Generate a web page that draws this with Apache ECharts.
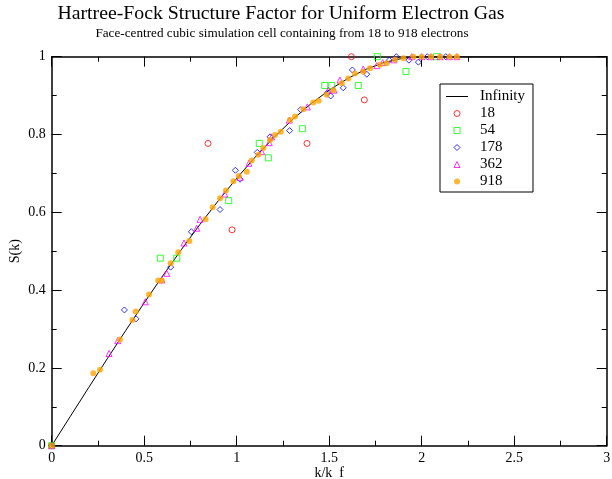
<!DOCTYPE html>
<html>
<head>
<meta charset="utf-8">
<script src="https://cdn.jsdelivr.net/npm/echarts/dist/echarts.min.js"></script>
<style>
  html, body { margin: 0; padding: 0; background: #fff; }
  #chart { width: 612px; height: 479px; }
</style>
</head>
<body>
<div id="chart"></div>
<script>
// Hartree-Fock S(k) for the infinite system
const kInf = [0, 0.1, 0.2, 0.3, 0.4, 0.5, 0.6, 0.7, 0.8, 0.9, 1.0, 1.1, 1.2, 1.3, 1.4, 1.5, 1.6, 1.7, 1.8, 1.9, 2.0, 3.0];
const sInf = [0, 0.0749, 0.1495, 0.2233, 0.296, 0.3672, 0.4365, 0.5036, 0.568, 0.6294, 0.6875, 0.7418, 0.792, 0.8377, 0.8785, 0.9141, 0.944, 0.9679, 0.9855, 0.9963, 1.0, 1.0];

// Finite simulation cells (number of electrons)
const k18 = [0, 0.845, 0.975, 1.380, 1.620, 1.690];
const s18 = [0, 0.777, 0.555, 0.777, 1.0, 0.889];

const k54 = [0, 0.587, 0.676, 0.957, 1.122, 1.171, 1.355, 1.476, 1.514, 1.657, 1.760, 1.915, 2.08];
const s54 = [0, 0.482, 0.482, 0.630, 0.777, 0.740, 0.815, 0.926, 0.926, 0.926, 1.0, 0.962, 1.0];

const k178 = [0, 0.393, 0.456, 0.643, 0.755, 0.910, 0.993, 1.018, 1.111, 1.180, 1.286, 1.346, 1.490, 1.508, 1.576, 1.625, 1.703, 1.825, 1.863, 1.931, 1.982, 2.03, 2.13];
const s178 = [0, 0.349, 0.326, 0.459, 0.550, 0.607, 0.708, 0.685, 0.754, 0.794, 0.810, 0.864, 0.907, 0.899, 0.920, 0.966, 0.955, 0.991, 1.0, 0.991, 0.986, 1.0, 1.0];

const k362 = [0, 0.310, 0.357, 0.506, 0.595, 0.622, 0.715, 0.784, 0.802, 0.935, 1.018, 1.066, 1.135, 1.176, 1.189, 1.284, 1.382, 1.495, 1.526, 1.558, 1.684, 1.757, 1.789, 1.850, 1.946, 2.0, 2.05, 2.1, 2.15, 2.19];
const s362 = [0, 0.237, 0.270, 0.370, 0.426, 0.443, 0.521, 0.559, 0.582, 0.647, 0.690, 0.726, 0.756, 0.779, 0.794, 0.837, 0.871, 0.914, 0.914, 0.940, 0.968, 0.977, 0.985, 0.992, 1.0, 1.0, 1.0, 1.0, 1.0, 1.0];

const k918 = [0, 0.225, 0.261, 0.369, 0.436, 0.454, 0.526, 0.576, 0.595, 0.643, 0.684, 0.744, 0.832, 0.870, 0.910, 0.942, 0.982, 1.011, 1.054, 1.081, 1.117, 1.144, 1.180, 1.207, 1.238, 1.288, 1.315, 1.360, 1.414, 1.443, 1.486, 1.522, 1.568, 1.603, 1.639, 1.684, 1.721, 1.775, 1.811, 1.856, 1.901, 1.955, 2.0, 2.05, 2.1, 2.15, 2.19];
const s918 = [0, 0.186, 0.195, 0.273, 0.323, 0.345, 0.389, 0.425, 0.425, 0.469, 0.497, 0.526, 0.582, 0.613, 0.636, 0.656, 0.680, 0.693, 0.704, 0.733, 0.748, 0.765, 0.786, 0.799, 0.807, 0.837, 0.846, 0.865, 0.882, 0.887, 0.902, 0.914, 0.932, 0.944, 0.957, 0.961, 0.970, 0.979, 0.983, 0.992, 0.996, 1.0, 1.0, 1.0, 1.0, 1.0, 1.0];

const seriesNames = ['Infinity', '18', '54', '178', '362', '918'];
const titleText = 'Hartree-Fock Structure Factor for Uniform Electron Gas';
const subtitleText = 'Face-centred cubic simulation cell containing from 18 to 918 electrons';
const xName = 'k/k  f';
const yName = 'S(k)';

const FONT = '"Liberation Serif", "Times New Roman", serif';
const zip = (xs, ys) => xs.map((x, i) => [x, ys[i]]);

// Legend glyphs drawn as paths so they keep a square aspect in the legend box
const ICON_LINE = 'path://M0,0H44V2H0Z';
const ICON_SQUARE = 'path://M0,0H10V10H0Z';
const ICON_DIAMOND = 'path://M5,0L10,5L5,10L0,5Z';
const ICON_TRIANGLE = 'path://M5,0L10,10H0Z';

function frameAxis(position, showLabels, extra) {
  return Object.assign({
    type: 'value',
    position: position,
    axisLine: { show: true, onZero: false, lineStyle: { color: '#000', width: 1.5 } },
    axisTick: { show: true, inside: true, length: 10, lineStyle: { color: '#000', width: 1 } },
    minorTick: { show: true, splitNumber: 2, length: 5, lineStyle: { color: '#000', width: 1 } },
    splitLine: { show: false },
    minorSplitLine: { show: false },
    axisLabel: { show: showLabels, color: '#000', fontFamily: FONT, fontSize: 14 },
    axisPointer: { show: false }
  }, extra);
}

const xBase = { min: 0, max: 3, interval: 0.5 };
const yBase = { min: 0, max: 1, interval: 0.2 };

function scatter(name, xs, ys, symbol, color, filled) {
  return {
    name: name,
    type: 'scatter',
    data: zip(xs, ys),
    symbol: symbol,
    symbolSize: 6,
    itemStyle: filled
      ? { color: color, borderWidth: 0 }
      : { color: 'rgba(0,0,0,0)', borderColor: color, borderWidth: 1 },
    emphasis: { disabled: true },
    z: 3
  };
}

const chart = echarts.init(document.getElementById('chart'), null, { renderer: 'canvas' });
chart.setOption({
  animation: false,
  backgroundColor: '#fff',
  grid: { left: 51.7, right: 5.3, top: 56.7, bottom: 33.3, containLabel: false, outerBoundsMode: 'none' },
  graphic: [
    { type: 'text', x: 281, y: 14, style: { text: titleText, font: '19.8px ' + FONT, fill: '#000', align: 'center', verticalAlign: 'middle' } },
    { type: 'text', x: 282, y: 34, style: { text: subtitleText, font: '13.2px ' + FONT, fill: '#000', align: 'center', verticalAlign: 'middle' } }
  ],
  xAxis: [
    frameAxis('bottom', true, Object.assign({}, xBase, {
      name: xName, nameLocation: 'middle', nameGap: 21, nameMoveOverlap: false,
      nameTextStyle: { color: '#000', fontFamily: FONT, fontSize: 14 },
      axisLabel: { show: true, color: '#000', fontFamily: FONT, fontSize: 14, margin: 6 }
    })),
    frameAxis('top', false, Object.assign({}, xBase))
  ],
  yAxis: [
    frameAxis('left', true, Object.assign({}, yBase, {
      name: yName, nameLocation: 'middle', nameGap: 29, nameMoveOverlap: false,
      nameTextStyle: { color: '#000', fontFamily: FONT, fontSize: 14 },
      axisLabel: { show: true, color: '#000', fontFamily: FONT, fontSize: 14, margin: 6 }
    })),
    frameAxis('right', false, Object.assign({}, yBase))
  ],
  legend: {
    orient: 'vertical',
    left: 440,
    top: 84,
    padding: [5, 8, 3, 6],
    itemWidth: 22,
    itemHeight: 6,
    itemGap: 2,
    symbolKeepAspect: true,
    itemStyle: { borderWidth: 1 },
    borderColor: '#000',
    borderWidth: 1,
    borderRadius: 0,
    backgroundColor: '#fff',
    selectedMode: false,
    textStyle: { color: '#000', fontFamily: FONT, fontSize: 15, padding: [0, 0, 0, 7] },
    data: [
      { name: seriesNames[0], icon: ICON_LINE, itemStyle: { color: '#000', borderWidth: 0 } },
      { name: seriesNames[1], icon: 'circle' },
      { name: seriesNames[2], icon: ICON_SQUARE },
      { name: seriesNames[3], icon: ICON_DIAMOND },
      { name: seriesNames[4], icon: ICON_TRIANGLE },
      { name: seriesNames[5], icon: 'circle', itemStyle: { borderWidth: 0 } }
    ]
  },
  series: [
    {
      name: seriesNames[0],
      type: 'line',
      data: zip(kInf, sInf),
      showSymbol: false,
      symbol: 'none',
      lineStyle: { color: '#000', width: 1 },
      itemStyle: { color: '#000' },
      emphasis: { disabled: true },
      z: 2
    },
    scatter(seriesNames[1], k18, s18, 'circle', '#ff0000', false),
    scatter(seriesNames[2], k54, s54, 'rect', '#00ff00', false),
    scatter(seriesNames[3], k178, s178, 'diamond', '#0000ff', false),
    scatter(seriesNames[4], k362, s362, 'triangle', '#ff00ff', false),
    scatter(seriesNames[5], k918, s918, 'circle', '#ffa500', true)
  ]
});
</script>
</body>
</html>
